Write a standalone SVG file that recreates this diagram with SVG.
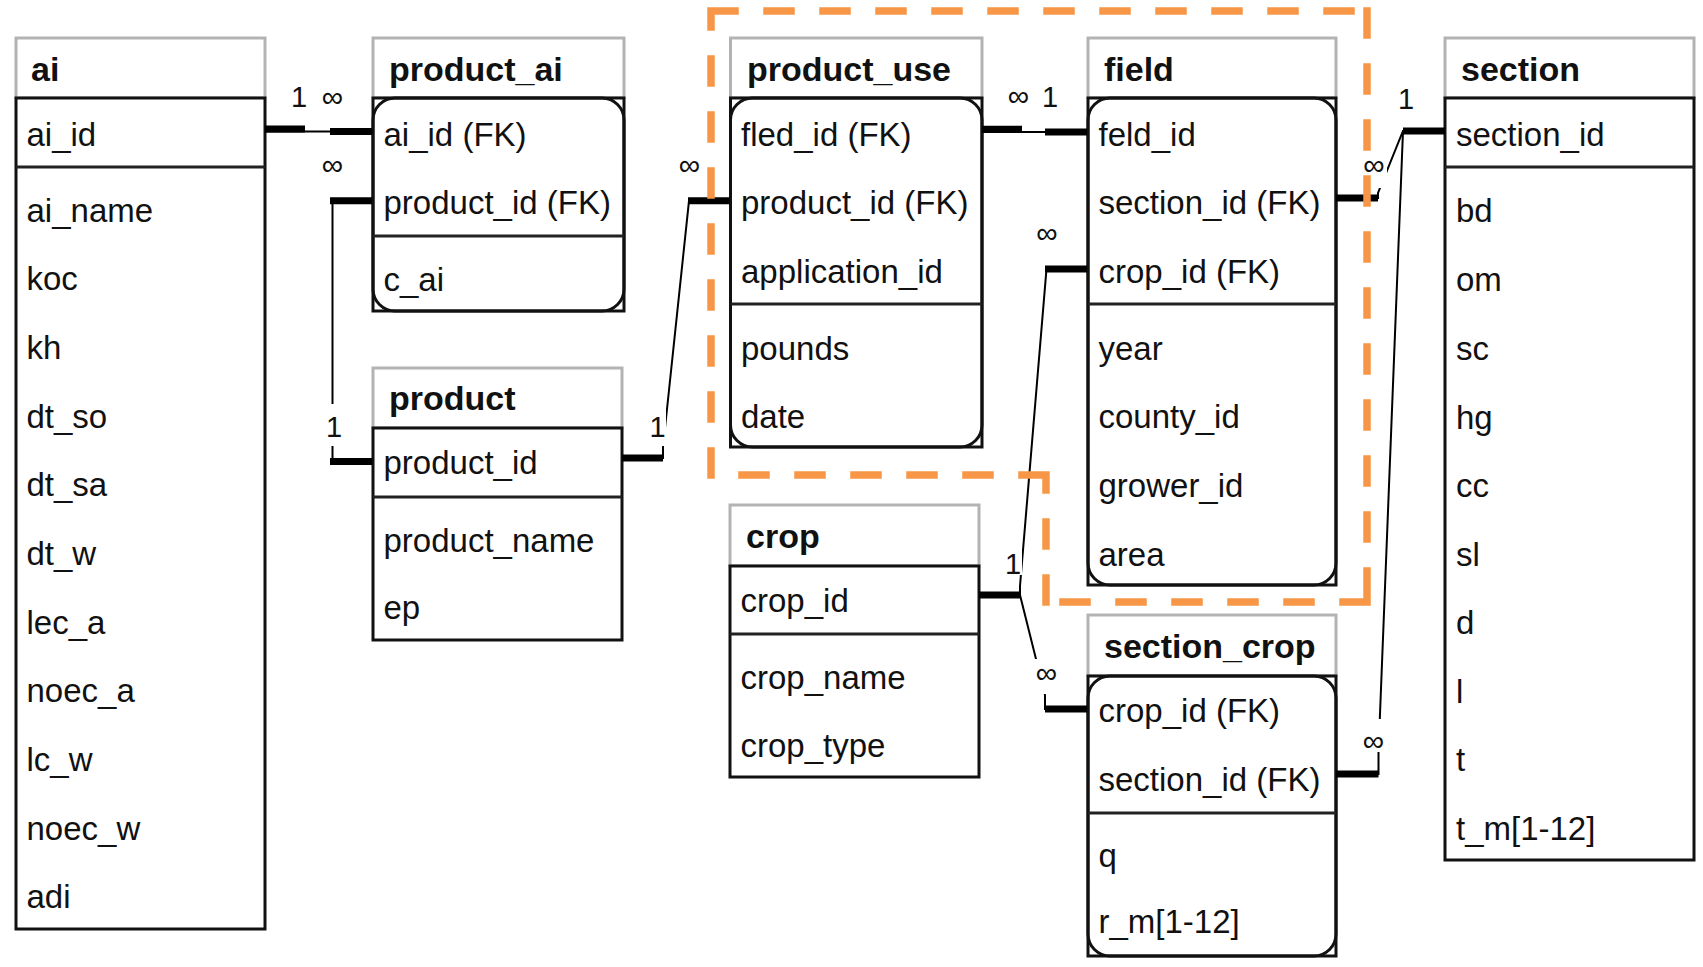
<svg xmlns="http://www.w3.org/2000/svg" width="1703" height="967" viewBox="0 0 1703 967">
<style>
.hdr{fill:#fff;stroke:#b3b3b3;stroke-width:3}
.body{fill:#fff;stroke:#111;stroke-width:3}
.rnd{fill:none;stroke:#111;stroke-width:3}
.div{stroke:#222;stroke-width:3}
.t{font-family:"Liberation Sans",Arial,Helvetica,sans-serif;font-size:33px;fill:#111}
.h{font-weight:bold;font-size:34px}
.lbl{font-family:"Liberation Sans",Arial,Helvetica,sans-serif;font-size:30px;fill:#111;text-anchor:middle}
.one{font-size:29px}
.thin{fill:none;stroke:#000;stroke-width:2}
.thick{fill:none;stroke:#000;stroke-width:7}
.bg{fill:#fff}
.zone{fill:none;stroke:#F79646;stroke-width:7.5;stroke-dasharray:24 32;stroke-linecap:square}
</style>
<rect x="0" y="0" width="1703" height="967" fill="#fff"/>

<g id="ai">
<rect class="hdr" x="16" y="38" width="249" height="60"/>
<rect class="body" x="16" y="98" width="249" height="831"/>
<line class="div" x1="16" y1="167" x2="265" y2="167"/>
<text class="t h" x="31" y="81">ai</text>
<text class="t" x="26.5" y="145.5">ai_id</text>
<text class="t" x="26.5" y="221.7">ai_name</text>
<text class="t" x="26.5" y="290.4">koc</text>
<text class="t" x="26.5" y="359">kh</text>
<text class="t" x="26.5" y="427.7">dt_so</text>
<text class="t" x="26.5" y="496.3">dt_sa</text>
<text class="t" x="26.5" y="565">dt_w</text>
<text class="t" x="26.5" y="633.6">lec_a</text>
<text class="t" x="26.5" y="702.3">noec_a</text>
<text class="t" x="26.5" y="771">lc_w</text>
<text class="t" x="26.5" y="839.6">noec_w</text>
<text class="t" x="26.5" y="908.2">adi</text>
</g>

<g id="product_ai">
<rect class="hdr" x="373" y="38" width="251" height="60"/>
<rect class="body" x="373" y="98" width="251" height="213"/>
<rect class="rnd" x="373" y="98" width="251" height="213" rx="22"/>
<line class="div" x1="373" y1="236" x2="624" y2="236"/>
<text class="t h" x="389" y="81">product_ai</text>
<text class="t" x="383.5" y="145.5">ai_id (FK)</text>
<text class="t" x="383.5" y="213.5">product_id (FK)</text>
<text class="t" x="383.5" y="290.5">c_ai</text>
</g>

<g id="product">
<rect class="hdr" x="373" y="368" width="249" height="60"/>
<rect class="body" x="373" y="428" width="249" height="212"/>
<line class="div" x1="373" y1="497" x2="622" y2="497"/>
<text class="t h" x="389" y="410">product</text>
<text class="t" x="383.5" y="474">product_id</text>
<text class="t" x="383.5" y="551.7">product_name</text>
<text class="t" x="383.5" y="618.5">ep</text>
</g>

<g id="product_use">
<rect class="hdr" x="730.5" y="38" width="251.5" height="60"/>
<rect class="body" x="730.5" y="98" width="251.5" height="349"/>
<rect class="rnd" x="730.5" y="98" width="251.5" height="349" rx="22"/>
<line class="div" x1="730.5" y1="304" x2="982" y2="304"/>
<text class="t h" x="747" y="81">product_use</text>
<text class="t" x="741" y="145.5">fled_id (FK)</text>
<text class="t" x="741" y="213.5">product_id (FK)</text>
<text class="t" x="741" y="283">application_id</text>
<text class="t" x="741" y="359.5">pounds</text>
<text class="t" x="741" y="428">date</text>
</g>

<g id="field">
<rect class="hdr" x="1088" y="38" width="248" height="60"/>
<rect class="body" x="1088" y="98" width="248" height="487"/>
<rect class="rnd" x="1088" y="98" width="248" height="487" rx="22"/>
<line class="div" x1="1088" y1="304" x2="1336" y2="304"/>
<text class="t h" x="1104" y="81">field</text>
<text class="t" x="1098.5" y="145.5">feld_id</text>
<text class="t" x="1098.5" y="213.5">section_id (FK)</text>
<text class="t" x="1098.5" y="283">crop_id (FK)</text>
<text class="t" x="1098.5" y="359.5">year</text>
<text class="t" x="1098.5" y="428">county_id</text>
<text class="t" x="1098.5" y="496.5">grower_id</text>
<text class="t" x="1098.5" y="565.5">area</text>
</g>

<g id="section">
<rect class="hdr" x="1445" y="38" width="249" height="60"/>
<rect class="body" x="1445" y="98" width="249" height="762"/>
<line class="div" x1="1445" y1="167" x2="1694" y2="167"/>
<text class="t h" x="1461" y="81">section</text>
<text class="t" x="1456" y="145.5">section_id</text>
<text class="t" x="1456" y="221.7">bd</text>
<text class="t" x="1456" y="290.5">om</text>
<text class="t" x="1456" y="359.5">sc</text>
<text class="t" x="1456" y="428.5">hg</text>
<text class="t" x="1456" y="497">cc</text>
<text class="t" x="1456" y="565.5">sl</text>
<text class="t" x="1456" y="634.2">d</text>
<text class="t" x="1456" y="702.8">l</text>
<text class="t" x="1456" y="771">t</text>
<text class="t" x="1456" y="840">t_m[1-12]</text>
</g>

<g id="crop">
<rect class="hdr" x="730" y="505" width="249" height="61"/>
<rect class="body" x="730" y="566" width="249" height="211"/>
<line class="div" x1="730" y1="634" x2="979" y2="634"/>
<text class="t h" x="746" y="548">crop</text>
<text class="t" x="740.5" y="612">crop_id</text>
<text class="t" x="740.5" y="688.5">crop_name</text>
<text class="t" x="740.5" y="757">crop_type</text>
</g>

<g id="section_crop">
<rect class="hdr" x="1088" y="615" width="248" height="61"/>
<rect class="body" x="1088" y="676" width="248" height="280"/>
<rect class="rnd" x="1088" y="676" width="248" height="280" rx="22"/>
<line class="div" x1="1088" y1="813" x2="1336" y2="813"/>
<text class="t h" x="1104" y="658">section_crop</text>
<text class="t" x="1098.5" y="722">crop_id (FK)</text>
<text class="t" x="1098.5" y="790.5">section_id (FK)</text>
<text class="t" x="1098.5" y="867">q</text>
<text class="t" x="1098.5" y="933">r_m[1-12]</text>
</g>

<g id="connectors">
<path class="thin" d="M265,131.5 H373"/>
<path class="thick" d="M265,129 H305 M330,131.5 H372"/>
<path class="thin" d="M372,200.8 H332.5 V461.5 H372"/>
<path class="thick" d="M330,200.8 H372 M330,461.5 H372"/>
<path class="thin" d="M622,458 H663 V447 L689,200.8 H730"/>
<path class="thick" d="M622,458 H663 M688,200.8 H730"/>
<path class="thin" d="M982,132 H1087"/>
<path class="thick" d="M982,129.3 H1022 M1045,132 H1087"/>
<path class="thin" d="M1087,269 H1046.5 L1020,586 V595 H979"/>
<path class="thick" d="M1045,269 H1087 M979,595 H1020"/>
<path class="thin" d="M1020,595 L1045,695 V709 H1087"/>
<path class="thick" d="M1045,709 H1087"/>
<path class="thin" d="M1336,198 H1378 V193 L1403,131 H1445"/>
<path class="thick" d="M1336,198 H1378 M1403,131 H1445"/>
<path class="thin" d="M1403,131 L1378.5,752 V774 H1336"/>
<path class="thick" d="M1336,774 H1378.5"/>
</g>

<g id="label-backgrounds">
<rect class="bg" x="325" y="404" width="18" height="42"/>
<rect class="bg" x="648" y="404" width="18" height="42"/>
<rect class="bg" x="1004" y="541" width="18" height="34"/>
<rect class="bg" x="1033" y="659" width="27" height="35"/>
<rect class="bg" x="1361" y="146" width="26" height="42"/>
<rect class="bg" x="1360" y="719" width="27" height="33"/>
</g>

<path id="zone" class="zone" d="M711,11 H1367 M1367,11 V602 M1367,602 H1046 M1046,602 V475 M1046,475 H711 M711,475 V11"/>

<g id="labels">
<text class="lbl one" x="299" y="107">1</text>
<text class="lbl" x="332.5" y="107">∞</text>
<text class="lbl" x="332.5" y="175">∞</text>
<text class="lbl one" x="334" y="436.5">1</text>
<text class="lbl one" x="657.5" y="436.5">1</text>
<text class="lbl" x="689.5" y="175">∞</text>
<text class="lbl" x="1018.5" y="106">∞</text>
<text class="lbl one" x="1050" y="106.5">1</text>
<text class="lbl" x="1047" y="243">∞</text>
<text class="lbl one" x="1013" y="573.5">1</text>
<text class="lbl" x="1046.5" y="683">∞</text>
<text class="lbl" x="1374" y="175">∞</text>
<text class="lbl one" x="1406" y="108.5">1</text>
<text class="lbl" x="1373.5" y="751">∞</text>
</g>
</svg>
